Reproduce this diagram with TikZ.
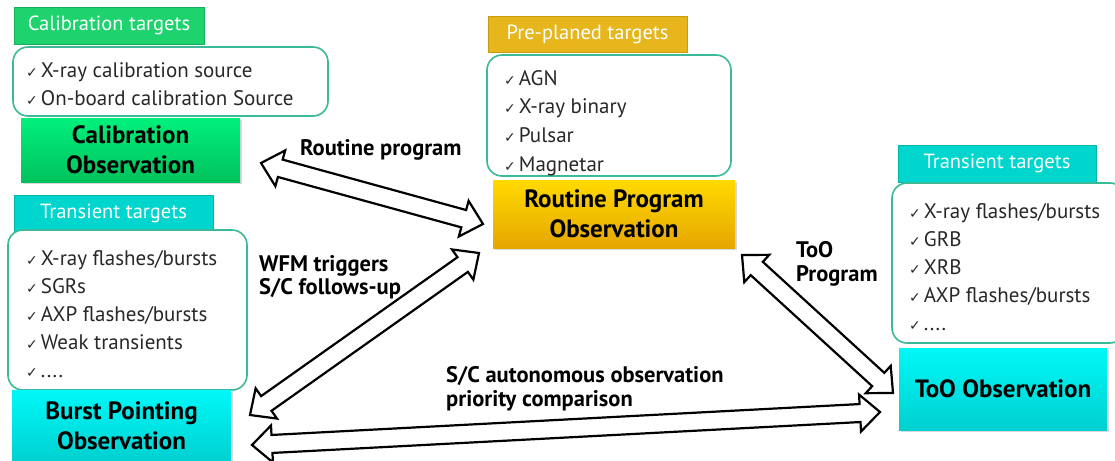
\documentclass[tikz,border=0pt]{standalone}
\usepackage{fontspec}
\setmainfont{PT Sans}
\newfontfamily\ckfont{DejaVu Sans}
\usetikzlibrary{calc,shadows}

\definecolor{hgreen}{RGB}{30,210,110}
\definecolor{hgreenb}{RGB}{20,175,90}
\definecolor{ogreent}{RGB}{0,240,124}
\definecolor{ogreenb}{RGB}{0,194,92}
\definecolor{hyellow}{RGB}{230,182,28}
\definecolor{hyellowb}{RGB}{200,155,20}
\definecolor{oyellowt}{RGB}{255,218,0}
\definecolor{oyellowb}{RGB}{230,166,0}
\definecolor{hcyan}{RGB}{0,214,206}
\definecolor{hcyanb}{RGB}{0,180,172}
\definecolor{ocyant}{RGB}{0,248,248}
\definecolor{ocyanb}{RGB}{0,208,208}
\definecolor{listb}{RGB}{58,186,150}
\definecolor{txt}{RGB}{40,40,40}

\newcommand\ck{{\ckfont\fontsize{14}{14}\selectfont ✓}\hspace{3pt}}
\newcommand\blockarrow[2]{%
  \coordinate (#1-h) at ($(#1)!20pt!(#2)$);
  \coordinate (#2-h) at ($(#2)!20pt!(#1)$);
  \draw[barrow] (#1) -- ($(#1-h)!18.5pt!90:(#2)$) -- ($(#1-h)!9pt!90:(#2)$)
    -- ($(#2-h)!9pt!-90:(#1)$) -- ($(#2-h)!18.5pt!-90:(#1)$) -- (#2)
    -- ($(#2-h)!18.5pt!90:(#1)$) -- ($(#2-h)!9pt!90:(#1)$)
    -- ($(#1-h)!9pt!-90:(#2)$) -- ($(#1-h)!18.5pt!-90:(#2)$) -- cycle;}

\tikzset{
  hdr/.style={rectangle, draw=#1b, fill=#1, line width=0.6pt, inner sep=0pt,
    text=white, font=\fontsize{20.5}{22}\selectfont,
    drop shadow={shadow xshift=1.2pt, shadow yshift=-1.2pt, opacity=0.25}},
  listbox/.style={rectangle, rounded corners=15pt, draw=listb, line width=1.6pt,
    fill=white, inner sep=0pt},
  listtxt/.style={anchor=west, align=left, inner sep=0pt, text=txt,
    font=\fontsize{21}{#1}\selectfont},
  obs/.style={rectangle, draw=none, top color=#1t, bottom color=#1b, inner sep=0pt,
    align=center, font=\bfseries\fontsize{25}{30}\selectfont,
    drop shadow={shadow xshift=1.5pt, shadow yshift=-1.5pt, opacity=0.3}},
  lbl/.style={anchor=west, align=left, inner sep=0pt,
    font=\bfseries\fontsize{22.5}{23.5}\selectfont},
  barrow/.style={draw=black, fill=white, line width=2.2pt, line join=miter}
}

\begin{document}
\begin{tikzpicture}[x=1pt,y=-1pt]
\useasboundingbox (0,0) rectangle (1115,460);

% Calibration
\node[hdr=hgreen, minimum width=190, minimum height=37] (calhdr) at (109,25.5) {Calibration targets};
\node[listbox, minimum width=315, minimum height=69] (callist) at (170.5,81.5) {};
\node[listtxt=28] (calitems) at (26,84) {\ck X-ray calibration source\\\ck On-board calibration Source};
\node[obs=ogreen, minimum width=219, minimum height=64] (calobs) at (130.5,150) {Calibration\\Observation};

% Pre-planed
\node[hdr=hyellow, minimum width=199, minimum height=36] (prehdr) at (587.5,34) {Pre-planed targets};
\node[listbox, minimum width=244, minimum height=121] (prelist) at (609,115.5) {};
\node[listtxt=28.7] (preitems) at (504,123) {\ck AGN\\\ck X-ray binary\\\ck Pulsar\\\ck Magnetar};
\node[obs=oyellow, minimum width=242, minimum height=68] (routobs) at (614,214) {Routine Program\\Observation};

% Left transient
\node[hdr=hcyan, minimum width=199, minimum height=36] (lthdr) at (113.5,213) {Transient targets};
\node[listbox, minimum width=239, minimum height=160] (ltlist) at (127.5,310) {};
\node[listtxt=28] (ltitems) at (26,314) {\ck X-ray flashes/bursts\\\ck SGRs\\\ck AXP flashes/bursts\\\ck Weak transients\\\ck ....};
\node[obs=ocyan, minimum width=219, minimum height=72] (burst) at (121.5,426) {Burst Pointing\\Observation};

% Right transient
\node[hdr=hcyan, minimum width=198, minimum height=37] (rthdr) at (997,163.5) {Transient targets};
\node[listbox, minimum width=233, minimum height=160] (rtlist) at (1008.5,263) {};
\node[listtxt=28] (rtitems) at (909,267) {\ck X-ray flashes/bursts\\\ck GRB\\\ck XRB\\\ck AXP flashes/bursts\\\ck ....};
\node[obs=ocyan, minimum width=208, minimum height=82] (tooobs) at (1003,389) {ToO Observation};

% Arrow end points
\coordinate (a1s) at (261,163);
\coordinate (a1e) at (483,224);
\coordinate (a2s) at (250,415);
\coordinate (a2e) at (479,253);
\coordinate (a3s) at (742,255);
\coordinate (a3e) at (893,393);
\coordinate (a4s) at (252,445);
\coordinate (a4e) at (880,412);
\blockarrow{a1s}{a1e}
\blockarrow{a2s}{a2e}
\blockarrow{a3s}{a3e}
\blockarrow{a4s}{a4e}

% Labels
\node[lbl] (l1) at (300,150) {Routine program};
\node[lbl] (l2) at (259,277) {WFM triggers\\S/C follows-up};
\node[lbl] (l3) at (796,264) {ToO\\Program};
\node[lbl] (l4) at (446,389) {S/C autonomous observation\\priority comparison};
\end{tikzpicture}
\end{document}
